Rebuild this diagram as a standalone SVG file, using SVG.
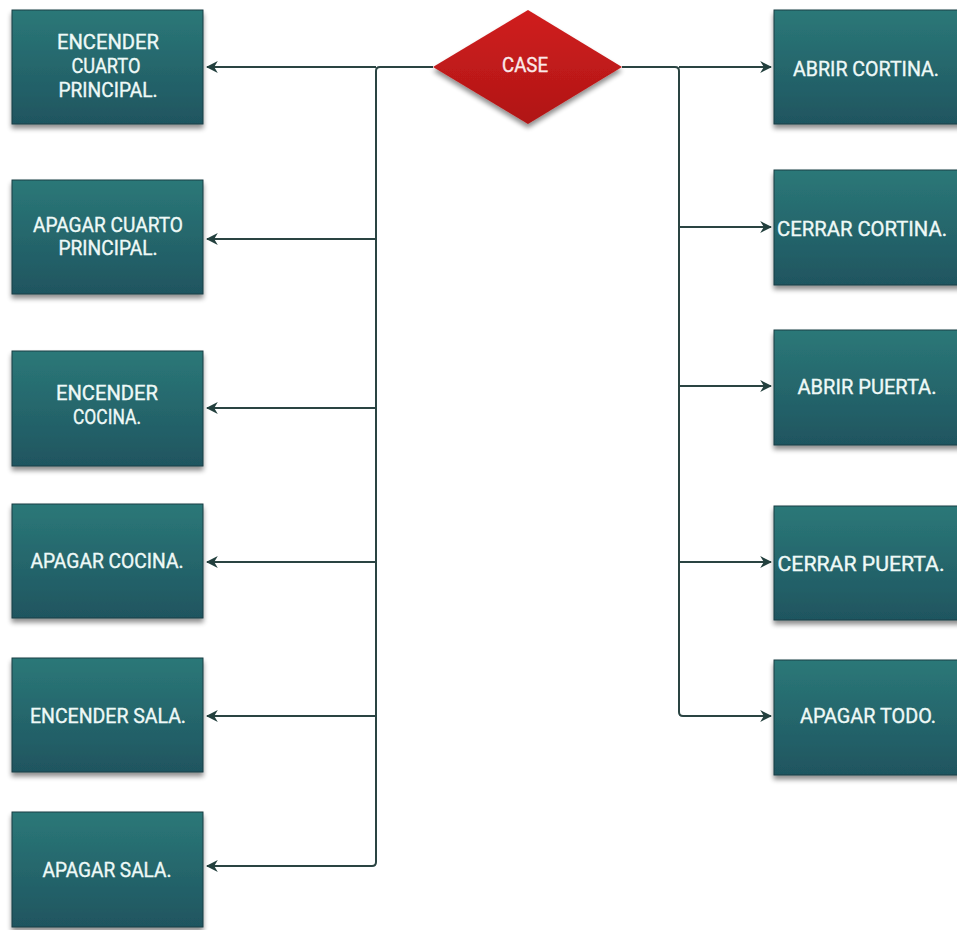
<svg xmlns="http://www.w3.org/2000/svg" width="957" height="930" viewBox="0 0 957 930">
<defs>
<linearGradient id="tg" x1="0" y1="0" x2="0" y2="1">
<stop offset="0" stop-color="#2b7878"/>
<stop offset="1" stop-color="#1f5560"/>
</linearGradient>
<linearGradient id="rg" x1="0" y1="0" x2="0" y2="1">
<stop offset="0" stop-color="#d01e1e"/>
<stop offset="1" stop-color="#b01616"/>
</linearGradient>
<filter id="sh" x="-10%" y="-10%" width="120%" height="130%">
<feGaussianBlur in="SourceAlpha" stdDeviation="2.5"/>
<feOffset dx="0" dy="4" result="b"/>
<feComponentTransfer><feFuncA type="linear" slope="0.45"/></feComponentTransfer>
<feMerge><feMergeNode/><feMergeNode in="SourceGraphic"/></feMerge>
</filter>
<marker id="ah" viewBox="0 0 10 10" refX="9" refY="5" markerWidth="12" markerHeight="12" markerUnits="userSpaceOnUse" orient="auto">
<path d="M0,0 L10,5 L0,10 L3,5 Z" fill="#23403e"/>
</marker>
</defs>
<style>
.box{fill:url(#tg);stroke:#1a3e44;stroke-width:1;filter:url(#sh)}
.t{fill:#eef9f7;font-family:"Roboto","Liberation Sans",sans-serif;font-weight:400;font-size:20px;text-anchor:middle;stroke:#eef9f7;stroke-width:0.35px}
.c{fill:none;stroke:#2a4442;stroke-width:2;marker-end:url(#ah)}
.l{fill:none;stroke:#2a4442;stroke-width:2}
</style>
<rect width="957" height="930" fill="#ffffff"/>
<g id="connectors">
<path class="l" d="M433,67 H380 Q376,67 376,71 V862 Q376,866 372,866"/>
<path class="c" d="M376,67 H207"/>
<path class="c" d="M376,239 H207"/>
<path class="c" d="M376,408 H207"/>
<path class="c" d="M376,562 H207"/>
<path class="c" d="M376,716 H207"/>
<path class="c" d="M372,866 H207"/>
<path class="l" d="M622,67 H675 Q679,67 679,71 V712 Q679,716 683,716"/>
<path class="c" d="M679,67 H771"/>
<path class="c" d="M679,227 H771"/>
<path class="c" d="M679,386 H771"/>
<path class="c" d="M679,562 H771"/>
<path class="c" d="M683,716 H771"/>
</g>
<g id="case">
<polygon points="528,10 622,67 528,124 433,67" fill="url(#rg)" filter="url(#sh)"/>
<text class="t" x="525" y="72" textLength="46" lengthAdjust="spacingAndGlyphs" style="fill:#fbe9e9;stroke:#fbe9e9">CASE</text>
</g>
<g id="n1"><rect class="box" x="12" y="10" width="191" height="114"/>
<text class="t" x="108" y="49" textLength="102" lengthAdjust="spacingAndGlyphs">ENCENDER</text>
<text class="t" x="106" y="73" textLength="69" lengthAdjust="spacingAndGlyphs">CUARTO</text>
<text class="t" x="108" y="97" textLength="99" lengthAdjust="spacingAndGlyphs">PRINCIPAL.</text></g>
<g id="n2"><rect class="box" x="12" y="180" width="191" height="114"/>
<text class="t" x="108" y="232" textLength="150" lengthAdjust="spacingAndGlyphs">APAGAR CUARTO</text>
<text class="t" x="108" y="255" textLength="99" lengthAdjust="spacingAndGlyphs">PRINCIPAL.</text></g>
<g id="n3"><rect class="box" x="12" y="351" width="191" height="115"/>
<text class="t" x="107" y="400" textLength="102" lengthAdjust="spacingAndGlyphs">ENCENDER</text>
<text class="t" x="107" y="424" textLength="68" lengthAdjust="spacingAndGlyphs">COCINA.</text></g>
<g id="n4"><rect class="box" x="12" y="504" width="191" height="114"/>
<text class="t" x="107" y="568" textLength="153" lengthAdjust="spacingAndGlyphs">APAGAR COCINA.</text></g>
<g id="n5"><rect class="box" x="12" y="658" width="191" height="114"/>
<text class="t" x="108" y="723" textLength="156" lengthAdjust="spacingAndGlyphs">ENCENDER SALA.</text></g>
<g id="n6"><rect class="box" x="12" y="812" width="191" height="115"/>
<text class="t" x="107" y="877" textLength="129" lengthAdjust="spacingAndGlyphs">APAGAR SALA.</text></g>
<g id="m1"><rect class="box" x="774" y="10" width="191" height="114"/>
<text class="t" x="866" y="76" textLength="146" lengthAdjust="spacingAndGlyphs">ABRIR CORTINA.</text></g>
<g id="m2"><rect class="box" x="774" y="170" width="191" height="115"/>
<text class="t" x="862" y="236" textLength="170" lengthAdjust="spacingAndGlyphs">CERRAR CORTINA.</text></g>
<g id="m3"><rect class="box" x="774" y="330" width="191" height="115"/>
<text class="t" x="867" y="394" textLength="139" lengthAdjust="spacingAndGlyphs">ABRIR PUERTA.</text></g>
<g id="m4"><rect class="box" x="774" y="506" width="191" height="114"/>
<text class="t" x="861" y="571" textLength="167" lengthAdjust="spacingAndGlyphs">CERRAR PUERTA.</text></g>
<g id="m5"><rect class="box" x="774" y="660" width="191" height="115"/>
<text class="t" x="868" y="723" textLength="136" lengthAdjust="spacingAndGlyphs">APAGAR TODO.</text></g>
</svg>
